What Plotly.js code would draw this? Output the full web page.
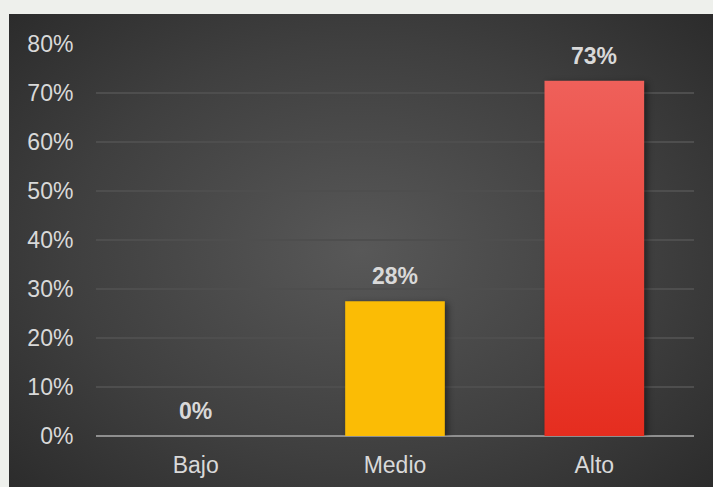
<!DOCTYPE html>
<html>
<head>
<meta charset="utf-8">
<script src="https://cdn.plot.ly/plotly-3.0.1.min.js"></script>
<style>
  html, body { margin: 0; padding: 0; width: 713px; height: 487px; overflow: hidden;
    background: #eef0ec; }
  #wrap { position: absolute; left: 9px; top: 14px; width: 704px; height: 473px;
    background: radial-gradient(ellipse 75% 80% at 50% 50%, #585858 0%, #3f3f3f 55%, #272727 100%); }
  #chart { width: 704px; height: 473px; }
</style>
</head>
<body>
<div id="wrap"><div id="chart"></div></div>
<script>
const categories = ["Bajo", "Medio", "Alto"];
const values = [0, 0.275, 0.725];
const labels = ["0%", "28%", "73%"];
const barColors = ["#FBBC05", "#FBBC05", "#EA3F33"];

const FONT = "Liberation Sans, Arial, sans-serif";

const trace = {
  type: "bar",
  x: categories,
  y: values,
  marker: { color: barColors, line: { width: 0 } },
  width: 0.5,
  hoverinfo: "none"
};

const annotations = categories.map(function (c, i) {
  return {
    x: c, y: values[i], text: "<b>" + labels[i] + "</b>",
    xref: "x", yref: "y", showarrow: false,
    yanchor: "bottom", yshift: 10,
    font: { family: FONT, size: 23, color: "#d9d9d9" }
  };
});

const layout = {
  width: 704, height: 473,
  margin: { l: 87, r: 19, t: 30, b: 51 },
  paper_bgcolor: "rgba(0,0,0,0)",
  plot_bgcolor: "rgba(0,0,0,0)",
  showlegend: false,
  font: { family: FONT, size: 23, color: "#d9d9d9" },
  annotations: annotations,
  xaxis: {
    showgrid: false, zeroline: false, showline: false,
    ticks: "outside", ticklen: 8, tickcolor: "rgba(0,0,0,0)",
    tickfont: { family: FONT, size: 23, color: "#d9d9d9" }
  },
  yaxis: {
    range: [0, 0.8], dtick: 0.1, tickformat: ".0%",
    showgrid: true, gridcolor: "#4e4e4e", gridwidth: 2,
    zeroline: true, zerolinecolor: "#8f8f8f", zerolinewidth: 2,
    showline: false,
    ticks: "outside", ticklen: 17, tickcolor: "rgba(0,0,0,0)",
    tickfont: { family: FONT, size: 23, color: "#d9d9d9" }
  }
};

Plotly.newPlot("chart", [trace], layout, { displayModeBar: false, staticPlot: true }).then(function (gd) {
  const svg = gd.querySelector("svg.main-svg");
  const ns = "http://www.w3.org/2000/svg";
  let defs = svg.querySelector("defs");
  const grad = document.createElementNS(ns, "linearGradient");
  grad.setAttribute("id", "altoGrad");
  grad.setAttribute("x1", "0"); grad.setAttribute("y1", "0");
  grad.setAttribute("x2", "0"); grad.setAttribute("y2", "1");
  [["0%", "#EF605A"], ["100%", "#E52D1F"]].forEach(function (s) {
    const st = document.createElementNS(ns, "stop");
    st.setAttribute("offset", s[0]); st.setAttribute("stop-color", s[1]);
    grad.appendChild(st);
  });
  defs.appendChild(grad);
  const paths = gd.querySelectorAll(".bars .point path");
  paths.forEach(function (p, i) {
    p.style.filter = "drop-shadow(3px 2px 3px rgba(0,0,0,0.45))";
    if (i === 2) p.style.fill = "url(#altoGrad)";
  });
});
</script>
</body>
</html>
